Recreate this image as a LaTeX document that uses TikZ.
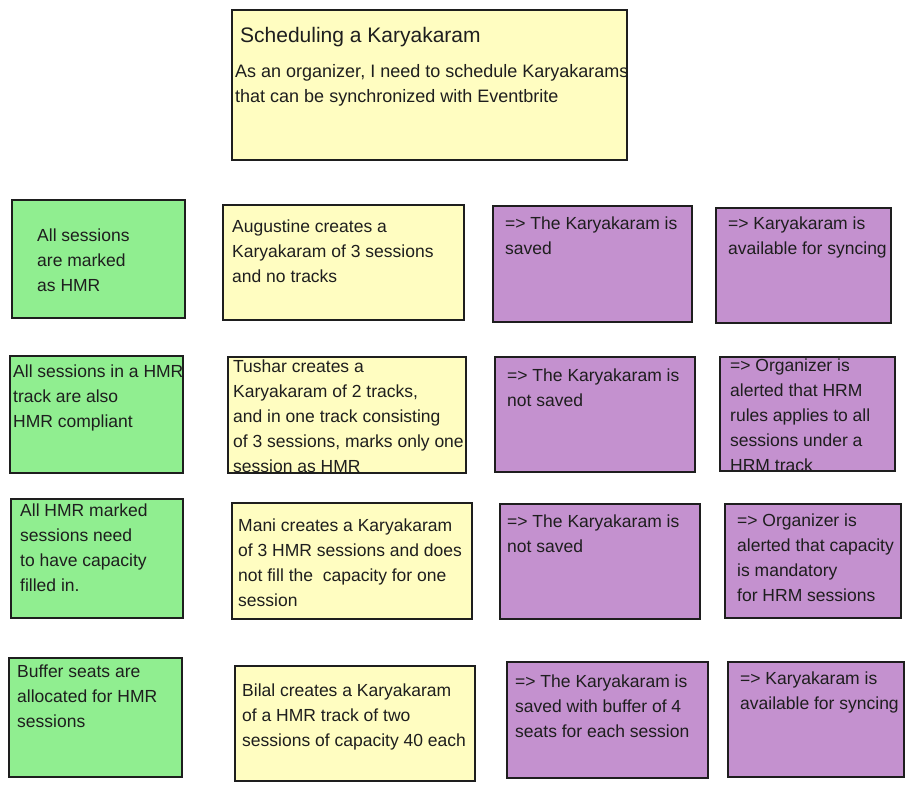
\documentclass[tikz,border=0pt]{standalone}
\usepackage{fontspec}
\setmainfont{Liberation Sans}
\usetikzlibrary{fit}
\definecolor{gfill}{HTML}{90EE90}
\definecolor{yfill}{HTML}{FFFDC1}
\definecolor{pfill}{HTML}{C491CF}
\definecolor{ink}{HTML}{1E1E1E}
\tikzset{
  card/.style={draw=ink, line width=1.2pt, inner sep=0pt, rectangle},
  gcard/.style={card, fill=gfill},
  ycard/.style={card, fill=yfill},
  pcard/.style={card, fill=pfill},
  txt/.style={anchor=north west, inner sep=0pt, align=left, text=ink, font=\fontsize{17.5}{25}\selectfont},
  headtxt/.style={txt, font=\fontsize{21}{25}\selectfont},
  bodytxt/.style={txt, font=\fontsize{18}{25}\selectfont},
}
\begin{document}
\begin{tikzpicture}[x=1pt,y=-1pt]
\useasboundingbox (0,0) rectangle (920,791);
% title card
\node[ycard, fit={(232,10)(627,160)}] (title) {};
\node[headtxt] (titlehead) at (240,25) {\strut Scheduling a Karyakaram};
\node[bodytxt] (titlebody) at (235,60) {\strut As an organizer, I need to schedule Karyakarams\\that can be synchronized with Eventbrite};
% row 1
\node[gcard, fit={(12,200)(185,318)}] (g1) {};
\node[ycard, fit={(223,205)(464,320)}] (y1) {};
\node[pcard, fit={(493,206)(692,322)}] (p1) {};
\node[pcard, fit={(716,208)(891,323)}] (q1) {};
\node[txt] (g1t) at (37,224) {\strut All sessions\\are marked\\as HMR};
\node[txt] (y1t) at (232,215) {\strut Augustine creates a\\Karyakaram of 3 sessions\\and no tracks};
\node[txt] (p1t) at (505,212) {\strut => The Karyakaram is\\saved};
\node[txt] (q1t) at (728,212) {\strut => Karyakaram is\\available for syncing};
% row 2
\node[gcard, fit={(10,356)(183,473)}] (g2) {};
\node[ycard, fit={(228,357)(466,473)}] (y2) {};
\node[pcard, fit={(495,357)(695,472)}] (p2) {};
\node[pcard, fit={(720,357)(895,471)}] (q2) {};
\node[txt] (g2t) at (13,360) {\strut All sessions in a HMR\\track are also\\HMR compliant};
\node[txt] (y2t) at (233,355) {\strut Tushar creates a\\Karyakaram of 2 tracks,\\and in one track consisting\\of 3 sessions, marks only one\\session as HMR};
\node[txt] (p2t) at (507,364) {\strut => The Karyakaram is\\not saved};
\node[txt] (q2t) at (730,354) {\strut => Organizer is\\alerted that HRM\\rules applies to all\\sessions under a\\HRM track};
% row 3
\node[gcard, fit={(11,499)(183,618)}] (g3) {};
\node[ycard, fit={(232,503)(472,619)}] (y3) {};
\node[pcard, fit={(500,504)(700,619)}] (p3) {};
\node[pcard, fit={(725,504)(901,618)}] (q3) {};
\node[txt] (g3t) at (20,499) {\strut All HMR marked\\sessions need\\to have capacity\\filled in.};
\node[txt] (y3t) at (238,514) {\strut Mani creates a Karyakaram\\of 3 HMR sessions and does\\not fill the\ \ capacity for one\\session};
\node[txt] (p3t) at (507,510) {\strut => The Karyakaram is\\not saved};
\node[txt] (q3t) at (737,509) {\strut => Organizer is\\alerted that capacity\\is mandatory\\for HRM sessions};
% row 4
\node[gcard, fit={(9,658)(182,777)}] (g4) {};
\node[ycard, fit={(235,666)(475,781)}] (y4) {};
\node[pcard, fit={(507,662)(708,778)}] (p4) {};
\node[pcard, fit={(728,662)(904,777)}] (q4) {};
\node[txt] (g4t) at (17,660) {\strut Buffer seats are\\allocated for HMR\\sessions};
\node[txt] (y4t) at (242,679) {\strut Bilal creates a Karyakaram\\of a HMR track of two\\sessions of capacity 40 each};
\node[txt] (p4t) at (515,670) {\strut => The Karyakaram is\\saved with buffer of 4\\seats for each session};
\node[txt] (q4t) at (740,667) {\strut => Karyakaram is\\available for syncing};
\end{tikzpicture}
\end{document}
